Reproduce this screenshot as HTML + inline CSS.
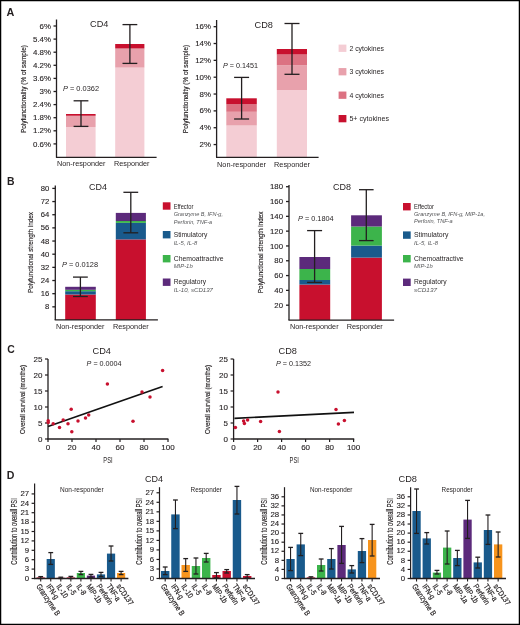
<!DOCTYPE html><html><head><meta charset="utf-8"><style>html,body{margin:0;padding:0;background:#fff;}svg{display:block;will-change:transform;fill:#231f20;}text{font-family:"Liberation Sans",sans-serif;}</style></head><body>
<svg width="520" height="625" viewBox="0 0 520 625">
<rect x="0" y="0" width="520" height="625" fill="#fff"/>
<text x="7" y="185.2" font-size="10.4" font-weight="bold">B</text>
<text x="6.6" y="15.8" font-size="10.8" font-weight="bold">A</text>
<text x="7.2" y="352.5" font-size="10.4" font-weight="bold">C</text>
<text x="6.8" y="478.6" font-size="10.6" font-weight="bold">D</text>
<rect x="66" y="127" width="29.6" height="30" fill="#f4cdd4"/>
<rect x="66" y="116" width="29.6" height="11" fill="#e8a1ac"/>
<rect x="66" y="115.6" width="29.6" height="0.4" fill="#dc7282"/>
<rect x="66" y="114" width="29.6" height="1.7" fill="#c8102e"/>
<rect x="115.2" y="67.6" width="29.2" height="89.4" fill="#f4cdd4"/>
<rect x="115.2" y="49.5" width="29.2" height="18.1" fill="#e8a1ac"/>
<rect x="115.2" y="48.2" width="29.2" height="1.3" fill="#dc7282"/>
<rect x="115.2" y="44" width="29.2" height="4.2" fill="#c8102e"/>
<line x1="81" y1="100.8" x2="81" y2="126.4" stroke="#231f20" stroke-width="1.3"/>
<line x1="73.6" y1="100.8" x2="88.4" y2="100.8" stroke="#231f20" stroke-width="1.3"/>
<line x1="73.6" y1="126.4" x2="88.4" y2="126.4" stroke="#231f20" stroke-width="1.3"/>
<line x1="129.9" y1="24.6" x2="129.9" y2="63.4" stroke="#231f20" stroke-width="1.3"/>
<line x1="122.5" y1="24.6" x2="137.3" y2="24.6" stroke="#231f20" stroke-width="1.3"/>
<line x1="122.5" y1="63.4" x2="137.3" y2="63.4" stroke="#231f20" stroke-width="1.3"/>
<line x1="56.5" y1="19.5" x2="56.5" y2="157" stroke="#231f20" stroke-width="1.3"/>
<line x1="53.5" y1="143.9" x2="56.5" y2="143.9" stroke="#231f20" stroke-width="1.3"/>
<text x="51" y="146.5" font-size="7.9" text-anchor="end" stroke="#231f20" stroke-width="0.12">0.6%</text>
<line x1="53.5" y1="130.8" x2="56.5" y2="130.8" stroke="#231f20" stroke-width="1.3"/>
<text x="51" y="133.4" font-size="7.9" text-anchor="end" stroke="#231f20" stroke-width="0.12">1.2%</text>
<line x1="53.5" y1="117.7" x2="56.5" y2="117.7" stroke="#231f20" stroke-width="1.3"/>
<text x="51" y="120.3" font-size="7.9" text-anchor="end" stroke="#231f20" stroke-width="0.12">1.8%</text>
<line x1="53.5" y1="104.6" x2="56.5" y2="104.6" stroke="#231f20" stroke-width="1.3"/>
<text x="51" y="107.2" font-size="7.9" text-anchor="end" stroke="#231f20" stroke-width="0.12">2.4%</text>
<line x1="53.5" y1="91.5" x2="56.5" y2="91.5" stroke="#231f20" stroke-width="1.3"/>
<text x="51" y="94.1" font-size="7.9" text-anchor="end" stroke="#231f20" stroke-width="0.12">3%</text>
<line x1="53.5" y1="78.4" x2="56.5" y2="78.4" stroke="#231f20" stroke-width="1.3"/>
<text x="51" y="81" font-size="7.9" text-anchor="end" stroke="#231f20" stroke-width="0.12">3.6%</text>
<line x1="53.5" y1="65.3" x2="56.5" y2="65.3" stroke="#231f20" stroke-width="1.3"/>
<text x="51" y="67.9" font-size="7.9" text-anchor="end" stroke="#231f20" stroke-width="0.12">4.2%</text>
<line x1="53.5" y1="52.2" x2="56.5" y2="52.2" stroke="#231f20" stroke-width="1.3"/>
<text x="51" y="54.8" font-size="7.9" text-anchor="end" stroke="#231f20" stroke-width="0.12">4.8%</text>
<line x1="53.5" y1="39.1" x2="56.5" y2="39.1" stroke="#231f20" stroke-width="1.3"/>
<text x="51" y="41.7" font-size="7.9" text-anchor="end" stroke="#231f20" stroke-width="0.12">5.4%</text>
<line x1="53.5" y1="26" x2="56.5" y2="26" stroke="#231f20" stroke-width="1.3"/>
<text x="51" y="28.6" font-size="7.9" text-anchor="end" stroke="#231f20" stroke-width="0.12">6%</text>
<line x1="55.9" y1="157.3" x2="156.6" y2="157.3" stroke="#231f20" stroke-width="1.3"/>
<text x="90" y="27" font-size="9.6" textLength="18.4" lengthAdjust="spacingAndGlyphs">CD4</text>
<text x="63" y="91.4" font-size="7.4" textLength="36" lengthAdjust="spacingAndGlyphs"><tspan font-style="italic">P</tspan> = 0.0362</text>
<text x="57" y="166.4" font-size="7.3" textLength="48.5" lengthAdjust="spacingAndGlyphs">Non-responder</text>
<text x="114" y="166.4" font-size="7.3" textLength="35.5" lengthAdjust="spacingAndGlyphs">Responder</text>
<text transform="translate(25.6 89) rotate(-90)" text-anchor="middle" font-size="7.2" textLength="88" lengthAdjust="spacingAndGlyphs" stroke="#231f20" stroke-width="0.15">Polyfunctionality (% of sample)</text>
<rect x="226.3" y="125.5" width="30.5" height="31.5" fill="#f4cdd4"/>
<rect x="226.3" y="111.8" width="30.5" height="13.7" fill="#e8a1ac"/>
<rect x="226.3" y="104.3" width="30.5" height="7.5" fill="#dc7282"/>
<rect x="226.3" y="98.3" width="30.5" height="6" fill="#c8102e"/>
<rect x="276.8" y="90" width="30.2" height="67" fill="#f4cdd4"/>
<rect x="276.8" y="65.2" width="30.2" height="24.8" fill="#e8a1ac"/>
<rect x="276.8" y="54.5" width="30.2" height="10.7" fill="#dc7282"/>
<rect x="276.8" y="49" width="30.2" height="5.5" fill="#c8102e"/>
<line x1="241.6" y1="77.4" x2="241.6" y2="119" stroke="#231f20" stroke-width="1.3"/>
<line x1="234.1" y1="77.4" x2="249.1" y2="77.4" stroke="#231f20" stroke-width="1.3"/>
<line x1="234.1" y1="119" x2="249.1" y2="119" stroke="#231f20" stroke-width="1.3"/>
<line x1="292" y1="23.5" x2="292" y2="74.3" stroke="#231f20" stroke-width="1.3"/>
<line x1="284.5" y1="23.5" x2="299.5" y2="23.5" stroke="#231f20" stroke-width="1.3"/>
<line x1="284.5" y1="74.3" x2="299.5" y2="74.3" stroke="#231f20" stroke-width="1.3"/>
<line x1="216.6" y1="20" x2="216.6" y2="157" stroke="#231f20" stroke-width="1.3"/>
<line x1="213.6" y1="144.56" x2="216.6" y2="144.56" stroke="#231f20" stroke-width="1.3"/>
<text x="211" y="147.16" font-size="7.9" text-anchor="end" stroke="#231f20" stroke-width="0.12">2%</text>
<line x1="213.6" y1="127.72" x2="216.6" y2="127.72" stroke="#231f20" stroke-width="1.3"/>
<text x="211" y="130.32" font-size="7.9" text-anchor="end" stroke="#231f20" stroke-width="0.12">4%</text>
<line x1="213.6" y1="110.88" x2="216.6" y2="110.88" stroke="#231f20" stroke-width="1.3"/>
<text x="211" y="113.48" font-size="7.9" text-anchor="end" stroke="#231f20" stroke-width="0.12">6%</text>
<line x1="213.6" y1="94.04" x2="216.6" y2="94.04" stroke="#231f20" stroke-width="1.3"/>
<text x="211" y="96.64" font-size="7.9" text-anchor="end" stroke="#231f20" stroke-width="0.12">8%</text>
<line x1="213.6" y1="77.2" x2="216.6" y2="77.2" stroke="#231f20" stroke-width="1.3"/>
<text x="211" y="79.8" font-size="7.9" text-anchor="end" stroke="#231f20" stroke-width="0.12">10%</text>
<line x1="213.6" y1="60.36" x2="216.6" y2="60.36" stroke="#231f20" stroke-width="1.3"/>
<text x="211" y="62.96" font-size="7.9" text-anchor="end" stroke="#231f20" stroke-width="0.12">12%</text>
<line x1="213.6" y1="43.52" x2="216.6" y2="43.52" stroke="#231f20" stroke-width="1.3"/>
<text x="211" y="46.12" font-size="7.9" text-anchor="end" stroke="#231f20" stroke-width="0.12">14%</text>
<line x1="213.6" y1="26.68" x2="216.6" y2="26.68" stroke="#231f20" stroke-width="1.3"/>
<text x="211" y="29.28" font-size="7.9" text-anchor="end" stroke="#231f20" stroke-width="0.12">16%</text>
<line x1="216" y1="157.3" x2="318.6" y2="157.3" stroke="#231f20" stroke-width="1.3"/>
<text x="254.6" y="27.9" font-size="9.6" textLength="18.4" lengthAdjust="spacingAndGlyphs">CD8</text>
<text x="223" y="67.6" font-size="7.4" textLength="35" lengthAdjust="spacingAndGlyphs"><tspan font-style="italic">P</tspan> = 0.1451</text>
<text x="217" y="167" font-size="7.3" textLength="49" lengthAdjust="spacingAndGlyphs">Non-responder</text>
<text x="274" y="167" font-size="7.3" textLength="36" lengthAdjust="spacingAndGlyphs">Responder</text>
<text transform="translate(188.4 89) rotate(-90)" text-anchor="middle" font-size="7.2" textLength="88.3" lengthAdjust="spacingAndGlyphs" stroke="#231f20" stroke-width="0.15">Polyfunctionality (% of sample)</text>
<rect x="338.6" y="44.6" width="7.8" height="7.3" fill="#f4cdd4"/>
<text x="349.4" y="50.6" font-size="7" textLength="34.6" lengthAdjust="spacingAndGlyphs">2 cytokines</text>
<rect x="338.6" y="68.07" width="7.8" height="7.3" fill="#e8a1ac"/>
<text x="349.4" y="74.07" font-size="7" textLength="34.6" lengthAdjust="spacingAndGlyphs">3 cytokines</text>
<rect x="338.6" y="91.54" width="7.8" height="7.3" fill="#dc7282"/>
<text x="349.4" y="97.54" font-size="7" textLength="34.6" lengthAdjust="spacingAndGlyphs">4 cytokines</text>
<rect x="338.6" y="115.01" width="7.8" height="7.3" fill="#c8102e"/>
<text x="349.4" y="121.01" font-size="7" textLength="39.6" lengthAdjust="spacingAndGlyphs">5+ cytokines</text>
<rect x="65.2" y="294.5" width="30.6" height="25.5" fill="#c8102e"/>
<rect x="65.2" y="291.2" width="30.6" height="3.3" fill="#195a8c"/>
<rect x="65.2" y="289.8" width="30.6" height="1.4" fill="#3cb44b"/>
<rect x="65.2" y="286.8" width="30.6" height="3" fill="#5c2a7b"/>
<rect x="115.8" y="239.4" width="30.1" height="80.6" fill="#c8102e"/>
<rect x="115.8" y="222.9" width="30.1" height="16.5" fill="#195a8c"/>
<rect x="115.8" y="221" width="30.1" height="1.9" fill="#3cb44b"/>
<rect x="115.8" y="212.9" width="30.1" height="8.1" fill="#5c2a7b"/>
<line x1="80.4" y1="277.1" x2="80.4" y2="296.5" stroke="#231f20" stroke-width="1.3"/>
<line x1="73" y1="277.1" x2="87.8" y2="277.1" stroke="#231f20" stroke-width="1.3"/>
<line x1="73" y1="296.5" x2="87.8" y2="296.5" stroke="#231f20" stroke-width="1.3"/>
<line x1="130.8" y1="192.3" x2="130.8" y2="232.8" stroke="#231f20" stroke-width="1.3"/>
<line x1="123.4" y1="192.3" x2="138.2" y2="192.3" stroke="#231f20" stroke-width="1.3"/>
<line x1="123.4" y1="232.8" x2="138.2" y2="232.8" stroke="#231f20" stroke-width="1.3"/>
<line x1="55.3" y1="185.6" x2="55.3" y2="320" stroke="#231f20" stroke-width="1.3"/>
<line x1="52.3" y1="306.84" x2="55.3" y2="306.84" stroke="#231f20" stroke-width="1.3"/>
<text x="49.2" y="309.44" font-size="7.7" text-anchor="end" stroke="#231f20" stroke-width="0.12">8</text>
<line x1="52.3" y1="293.68" x2="55.3" y2="293.68" stroke="#231f20" stroke-width="1.3"/>
<text x="49.2" y="296.28" font-size="7.7" text-anchor="end" stroke="#231f20" stroke-width="0.12">16</text>
<line x1="52.3" y1="280.52" x2="55.3" y2="280.52" stroke="#231f20" stroke-width="1.3"/>
<text x="49.2" y="283.12" font-size="7.7" text-anchor="end" stroke="#231f20" stroke-width="0.12">24</text>
<line x1="52.3" y1="267.36" x2="55.3" y2="267.36" stroke="#231f20" stroke-width="1.3"/>
<text x="49.2" y="269.96" font-size="7.7" text-anchor="end" stroke="#231f20" stroke-width="0.12">32</text>
<line x1="52.3" y1="254.2" x2="55.3" y2="254.2" stroke="#231f20" stroke-width="1.3"/>
<text x="49.2" y="256.8" font-size="7.7" text-anchor="end" stroke="#231f20" stroke-width="0.12">40</text>
<line x1="52.3" y1="241.04" x2="55.3" y2="241.04" stroke="#231f20" stroke-width="1.3"/>
<text x="49.2" y="243.64" font-size="7.7" text-anchor="end" stroke="#231f20" stroke-width="0.12">48</text>
<line x1="52.3" y1="227.88" x2="55.3" y2="227.88" stroke="#231f20" stroke-width="1.3"/>
<text x="49.2" y="230.48" font-size="7.7" text-anchor="end" stroke="#231f20" stroke-width="0.12">56</text>
<line x1="52.3" y1="214.72" x2="55.3" y2="214.72" stroke="#231f20" stroke-width="1.3"/>
<text x="49.2" y="217.32" font-size="7.7" text-anchor="end" stroke="#231f20" stroke-width="0.12">64</text>
<line x1="52.3" y1="201.56" x2="55.3" y2="201.56" stroke="#231f20" stroke-width="1.3"/>
<text x="49.2" y="204.16" font-size="7.7" text-anchor="end" stroke="#231f20" stroke-width="0.12">72</text>
<line x1="52.3" y1="188.4" x2="55.3" y2="188.4" stroke="#231f20" stroke-width="1.3"/>
<text x="49.2" y="191" font-size="7.7" text-anchor="end" stroke="#231f20" stroke-width="0.12">80</text>
<line x1="54.7" y1="319.9" x2="157.9" y2="319.9" stroke="#231f20" stroke-width="1.3"/>
<text x="89" y="190" font-size="9.5" textLength="18" lengthAdjust="spacingAndGlyphs">CD4</text>
<text x="62" y="267.4" font-size="7.4" textLength="36" lengthAdjust="spacingAndGlyphs"><tspan font-style="italic">P</tspan> = 0.0128</text>
<text x="56" y="328.6" font-size="7.3" textLength="48.5" lengthAdjust="spacingAndGlyphs">Non-responder</text>
<text x="113" y="328.6" font-size="7.3" textLength="35.7" lengthAdjust="spacingAndGlyphs">Responder</text>
<text transform="translate(32.5 252.5) rotate(-90)" text-anchor="middle" font-size="7.4" textLength="81" lengthAdjust="spacingAndGlyphs" stroke="#231f20" stroke-width="0.15">Polyfunctional strength index</text>
<rect x="162.8" y="202.3" width="7.7" height="7.4" fill="#c8102e"/>
<text x="173.7" y="208.7" font-size="6.5" textLength="19.8" lengthAdjust="spacingAndGlyphs">Effector</text>
<text x="173.7" y="216.3" font-size="5.9" textLength="49.3" lengthAdjust="spacingAndGlyphs" font-style="italic" fill="#555658">Granzyme B, IFN-g,</text>
<text x="173.7" y="223.5" font-size="5.9" textLength="38.5" lengthAdjust="spacingAndGlyphs" font-style="italic" fill="#555658">Perforin, TNF-a</text>
<rect x="162.8" y="231" width="7.7" height="7.4" fill="#195a8c"/>
<text x="173.7" y="237.2" font-size="6.8" textLength="33.6" lengthAdjust="spacingAndGlyphs">Stimulatory</text>
<text x="173.7" y="244.8" font-size="5.9" textLength="23.5" lengthAdjust="spacingAndGlyphs" font-style="italic" fill="#555658">IL-5, IL-8</text>
<rect x="162.8" y="255" width="7.7" height="7.4" fill="#3cb44b"/>
<text x="173.7" y="260.6" font-size="6.8" textLength="49.8" lengthAdjust="spacingAndGlyphs">Chemoattractive</text>
<text x="173.7" y="267.7" font-size="5.9" textLength="19" lengthAdjust="spacingAndGlyphs" font-style="italic" fill="#555658">MIP-1b</text>
<rect x="162.8" y="278.5" width="7.7" height="7.4" fill="#5c2a7b"/>
<text x="173.7" y="284.1" font-size="6.8" textLength="32.3" lengthAdjust="spacingAndGlyphs">Regulatory</text>
<text x="173.7" y="291.7" font-size="5.9" textLength="39.3" lengthAdjust="spacingAndGlyphs" font-style="italic" fill="#555658">IL-10, sCD137</text>
<rect x="299.4" y="284.6" width="30.8" height="35.4" fill="#c8102e"/>
<rect x="299.4" y="280" width="30.8" height="4.6" fill="#195a8c"/>
<rect x="299.4" y="269" width="30.8" height="11" fill="#3cb44b"/>
<rect x="299.4" y="257" width="30.8" height="12" fill="#5c2a7b"/>
<rect x="351.1" y="257.6" width="30.8" height="62.4" fill="#c8102e"/>
<rect x="351.1" y="245.6" width="30.8" height="12" fill="#195a8c"/>
<rect x="351.1" y="226.5" width="30.8" height="19.1" fill="#3cb44b"/>
<rect x="351.1" y="215.3" width="30.8" height="11.2" fill="#5c2a7b"/>
<line x1="314.6" y1="230.6" x2="314.6" y2="282.4" stroke="#231f20" stroke-width="1.3"/>
<line x1="307.1" y1="230.6" x2="322.1" y2="230.6" stroke="#231f20" stroke-width="1.3"/>
<line x1="307.1" y1="282.4" x2="322.1" y2="282.4" stroke="#231f20" stroke-width="1.3"/>
<line x1="366.3" y1="189.7" x2="366.3" y2="240.6" stroke="#231f20" stroke-width="1.3"/>
<line x1="359" y1="189.7" x2="373.6" y2="189.7" stroke="#231f20" stroke-width="1.3"/>
<line x1="359" y1="240.6" x2="373.6" y2="240.6" stroke="#231f20" stroke-width="1.3"/>
<line x1="289" y1="185" x2="289" y2="320" stroke="#231f20" stroke-width="1.3"/>
<line x1="286" y1="305.19" x2="289" y2="305.19" stroke="#231f20" stroke-width="1.3"/>
<text x="283" y="307.79" font-size="7.8" text-anchor="end" stroke="#231f20" stroke-width="0.12">20</text>
<line x1="286" y1="290.38" x2="289" y2="290.38" stroke="#231f20" stroke-width="1.3"/>
<text x="283" y="292.98" font-size="7.8" text-anchor="end" stroke="#231f20" stroke-width="0.12">40</text>
<line x1="286" y1="275.57" x2="289" y2="275.57" stroke="#231f20" stroke-width="1.3"/>
<text x="283" y="278.17" font-size="7.8" text-anchor="end" stroke="#231f20" stroke-width="0.12">60</text>
<line x1="286" y1="260.76" x2="289" y2="260.76" stroke="#231f20" stroke-width="1.3"/>
<text x="283" y="263.36" font-size="7.8" text-anchor="end" stroke="#231f20" stroke-width="0.12">80</text>
<line x1="286" y1="245.95" x2="289" y2="245.95" stroke="#231f20" stroke-width="1.3"/>
<text x="283" y="248.55" font-size="7.8" text-anchor="end" stroke="#231f20" stroke-width="0.12">100</text>
<line x1="286" y1="231.14" x2="289" y2="231.14" stroke="#231f20" stroke-width="1.3"/>
<text x="283" y="233.74" font-size="7.8" text-anchor="end" stroke="#231f20" stroke-width="0.12">120</text>
<line x1="286" y1="216.33" x2="289" y2="216.33" stroke="#231f20" stroke-width="1.3"/>
<text x="283" y="218.93" font-size="7.8" text-anchor="end" stroke="#231f20" stroke-width="0.12">140</text>
<line x1="286" y1="201.52" x2="289" y2="201.52" stroke="#231f20" stroke-width="1.3"/>
<text x="283" y="204.12" font-size="7.8" text-anchor="end" stroke="#231f20" stroke-width="0.12">160</text>
<line x1="286" y1="186.71" x2="289" y2="186.71" stroke="#231f20" stroke-width="1.3"/>
<text x="283" y="189.31" font-size="7.8" text-anchor="end" stroke="#231f20" stroke-width="0.12">180</text>
<line x1="288.4" y1="320.2" x2="394.1" y2="320.2" stroke="#231f20" stroke-width="1.3"/>
<text x="333" y="189.7" font-size="9.5" textLength="18" lengthAdjust="spacingAndGlyphs">CD8</text>
<text x="298" y="221" font-size="7.4" textLength="35.6" lengthAdjust="spacingAndGlyphs"><tspan font-style="italic">P</tspan> = 0.1804</text>
<text x="290" y="328.8" font-size="7.3" textLength="48.6" lengthAdjust="spacingAndGlyphs">Non-responder</text>
<text x="346.7" y="328.8" font-size="7.3" textLength="36" lengthAdjust="spacingAndGlyphs">Responder</text>
<text transform="translate(263 252.3) rotate(-90)" text-anchor="middle" font-size="7.4" textLength="81.7" lengthAdjust="spacingAndGlyphs" stroke="#231f20" stroke-width="0.15">Polyfunctional strength index</text>
<rect x="403" y="203" width="7.7" height="7.4" fill="#c8102e"/>
<text x="414" y="208.8" font-size="6.5" textLength="20" lengthAdjust="spacingAndGlyphs">Effector</text>
<text x="414" y="216.1" font-size="5.9" textLength="71" lengthAdjust="spacingAndGlyphs" font-style="italic" fill="#555658">Granzyme B, IFN-g, MIP-1a,</text>
<text x="414" y="223.1" font-size="5.9" textLength="38.6" lengthAdjust="spacingAndGlyphs" font-style="italic" fill="#555658">Perforin, TNF-a</text>
<rect x="403" y="231.4" width="7.7" height="7.4" fill="#195a8c"/>
<text x="414" y="237.4" font-size="6.8" textLength="34.4" lengthAdjust="spacingAndGlyphs">Stimulatory</text>
<text x="414" y="244.5" font-size="5.9" textLength="24" lengthAdjust="spacingAndGlyphs" font-style="italic" fill="#555658">IL-5, IL-8</text>
<rect x="403" y="255" width="7.7" height="7.4" fill="#3cb44b"/>
<text x="414" y="260.8" font-size="6.8" textLength="49.6" lengthAdjust="spacingAndGlyphs">Chemoattractive</text>
<text x="414" y="268.1" font-size="5.9" textLength="18.6" lengthAdjust="spacingAndGlyphs" font-style="italic" fill="#555658">MIP-1b</text>
<rect x="403" y="278.6" width="7.7" height="7.4" fill="#5c2a7b"/>
<text x="414" y="284.4" font-size="6.8" textLength="32.6" lengthAdjust="spacingAndGlyphs">Regulatory</text>
<text x="414" y="291.5" font-size="5.9" textLength="23" lengthAdjust="spacingAndGlyphs" font-style="italic" fill="#555658">sCD137</text>
<line x1="48" y1="359" x2="48" y2="439" stroke="#231f20" stroke-width="1.3"/>
<line x1="45" y1="439" x2="48" y2="439" stroke="#231f20" stroke-width="1.2"/>
<text x="42.4" y="441.9" font-size="8" text-anchor="end" stroke="#231f20" stroke-width="0.12">0</text>
<line x1="45" y1="423" x2="48" y2="423" stroke="#231f20" stroke-width="1.2"/>
<text x="42.4" y="425.9" font-size="8" text-anchor="end" stroke="#231f20" stroke-width="0.12">5</text>
<line x1="45" y1="407" x2="48" y2="407" stroke="#231f20" stroke-width="1.2"/>
<text x="42.4" y="409.9" font-size="8" text-anchor="end" stroke="#231f20" stroke-width="0.12">10</text>
<line x1="45" y1="391" x2="48" y2="391" stroke="#231f20" stroke-width="1.2"/>
<text x="42.4" y="393.9" font-size="8" text-anchor="end" stroke="#231f20" stroke-width="0.12">15</text>
<line x1="45" y1="375" x2="48" y2="375" stroke="#231f20" stroke-width="1.2"/>
<text x="42.4" y="377.9" font-size="8" text-anchor="end" stroke="#231f20" stroke-width="0.12">20</text>
<line x1="45" y1="359" x2="48" y2="359" stroke="#231f20" stroke-width="1.2"/>
<text x="42.4" y="361.9" font-size="8" text-anchor="end" stroke="#231f20" stroke-width="0.12">25</text>
<line x1="47.4" y1="439" x2="168.4" y2="439" stroke="#231f20" stroke-width="1.3"/>
<line x1="48" y1="439" x2="48" y2="442" stroke="#231f20" stroke-width="1.2"/>
<text x="48" y="450.3" font-size="8" text-anchor="middle" stroke="#231f20" stroke-width="0.12">0</text>
<line x1="72" y1="439" x2="72" y2="442" stroke="#231f20" stroke-width="1.2"/>
<text x="72" y="450.3" font-size="8" text-anchor="middle" stroke="#231f20" stroke-width="0.12">20</text>
<line x1="96" y1="439" x2="96" y2="442" stroke="#231f20" stroke-width="1.2"/>
<text x="96" y="450.3" font-size="8" text-anchor="middle" stroke="#231f20" stroke-width="0.12">40</text>
<line x1="120" y1="439" x2="120" y2="442" stroke="#231f20" stroke-width="1.2"/>
<text x="120" y="450.3" font-size="8" text-anchor="middle" stroke="#231f20" stroke-width="0.12">60</text>
<line x1="144" y1="439" x2="144" y2="442" stroke="#231f20" stroke-width="1.2"/>
<text x="144" y="450.3" font-size="8" text-anchor="middle" stroke="#231f20" stroke-width="0.12">80</text>
<line x1="168" y1="439" x2="168" y2="442" stroke="#231f20" stroke-width="1.2"/>
<text x="168" y="450.3" font-size="8" text-anchor="middle" stroke="#231f20" stroke-width="0.12">100</text>
<line x1="48" y1="426.6" x2="162.6" y2="386.4" stroke="#111" stroke-width="1.6"/>
<circle cx="48.2" cy="420.8" r="1.75" fill="#c8102e"/>
<circle cx="48.2" cy="422.6" r="1.75" fill="#c8102e"/>
<circle cx="53.2" cy="423.8" r="1.75" fill="#c8102e"/>
<circle cx="59.5" cy="427.5" r="1.75" fill="#c8102e"/>
<circle cx="63.2" cy="420" r="1.75" fill="#c8102e"/>
<circle cx="68" cy="423.8" r="1.75" fill="#c8102e"/>
<circle cx="71.2" cy="409.2" r="1.75" fill="#c8102e"/>
<circle cx="71.8" cy="431.8" r="1.75" fill="#c8102e"/>
<circle cx="78" cy="421" r="1.75" fill="#c8102e"/>
<circle cx="85.5" cy="418" r="1.75" fill="#c8102e"/>
<circle cx="88.7" cy="415" r="1.75" fill="#c8102e"/>
<circle cx="107.4" cy="384" r="1.75" fill="#c8102e"/>
<circle cx="133" cy="421.2" r="1.75" fill="#c8102e"/>
<circle cx="142" cy="392" r="1.75" fill="#c8102e"/>
<circle cx="150" cy="397" r="1.75" fill="#c8102e"/>
<circle cx="162.6" cy="370.4" r="1.75" fill="#c8102e"/>
<text x="92.6" y="354.2" font-size="9.6" textLength="18.4" lengthAdjust="spacingAndGlyphs">CD4</text>
<text x="86.6" y="366.3" font-size="7.2" textLength="35" lengthAdjust="spacingAndGlyphs"><tspan font-style="italic">P</tspan> = 0.0004</text>
<text transform="translate(24.5 399.5) rotate(-90)" text-anchor="middle" font-size="6.8" textLength="69" lengthAdjust="spacingAndGlyphs" stroke="#231f20" stroke-width="0.15">Overall survival (months)</text>
<text x="108" y="463" font-size="8.3" text-anchor="middle" textLength="9.3" lengthAdjust="spacingAndGlyphs">PSI</text>
<line x1="233.6" y1="359" x2="233.6" y2="439" stroke="#231f20" stroke-width="1.3"/>
<line x1="230.6" y1="439" x2="233.6" y2="439" stroke="#231f20" stroke-width="1.2"/>
<text x="228" y="441.9" font-size="8" text-anchor="end" stroke="#231f20" stroke-width="0.12">0</text>
<line x1="230.6" y1="423" x2="233.6" y2="423" stroke="#231f20" stroke-width="1.2"/>
<text x="228" y="425.9" font-size="8" text-anchor="end" stroke="#231f20" stroke-width="0.12">5</text>
<line x1="230.6" y1="407" x2="233.6" y2="407" stroke="#231f20" stroke-width="1.2"/>
<text x="228" y="409.9" font-size="8" text-anchor="end" stroke="#231f20" stroke-width="0.12">10</text>
<line x1="230.6" y1="391" x2="233.6" y2="391" stroke="#231f20" stroke-width="1.2"/>
<text x="228" y="393.9" font-size="8" text-anchor="end" stroke="#231f20" stroke-width="0.12">15</text>
<line x1="230.6" y1="375" x2="233.6" y2="375" stroke="#231f20" stroke-width="1.2"/>
<text x="228" y="377.9" font-size="8" text-anchor="end" stroke="#231f20" stroke-width="0.12">20</text>
<line x1="230.6" y1="359" x2="233.6" y2="359" stroke="#231f20" stroke-width="1.2"/>
<text x="228" y="361.9" font-size="8" text-anchor="end" stroke="#231f20" stroke-width="0.12">25</text>
<line x1="233" y1="439" x2="354.2" y2="439" stroke="#231f20" stroke-width="1.3"/>
<line x1="233.6" y1="439" x2="233.6" y2="442" stroke="#231f20" stroke-width="1.2"/>
<text x="233.6" y="450.3" font-size="8" text-anchor="middle" stroke="#231f20" stroke-width="0.12">0</text>
<line x1="257.6" y1="439" x2="257.6" y2="442" stroke="#231f20" stroke-width="1.2"/>
<text x="257.6" y="450.3" font-size="8" text-anchor="middle" stroke="#231f20" stroke-width="0.12">20</text>
<line x1="281.6" y1="439" x2="281.6" y2="442" stroke="#231f20" stroke-width="1.2"/>
<text x="281.6" y="450.3" font-size="8" text-anchor="middle" stroke="#231f20" stroke-width="0.12">40</text>
<line x1="305.6" y1="439" x2="305.6" y2="442" stroke="#231f20" stroke-width="1.2"/>
<text x="305.6" y="450.3" font-size="8" text-anchor="middle" stroke="#231f20" stroke-width="0.12">60</text>
<line x1="329.6" y1="439" x2="329.6" y2="442" stroke="#231f20" stroke-width="1.2"/>
<text x="329.6" y="450.3" font-size="8" text-anchor="middle" stroke="#231f20" stroke-width="0.12">80</text>
<line x1="353.6" y1="439" x2="353.6" y2="442" stroke="#231f20" stroke-width="1.2"/>
<text x="353.6" y="450.3" font-size="8" text-anchor="middle" stroke="#231f20" stroke-width="0.12">100</text>
<line x1="234.4" y1="418.4" x2="354" y2="412.4" stroke="#111" stroke-width="1.6"/>
<circle cx="235.4" cy="427.4" r="1.75" fill="#c8102e"/>
<circle cx="243.6" cy="421" r="1.75" fill="#c8102e"/>
<circle cx="244.4" cy="423.4" r="1.75" fill="#c8102e"/>
<circle cx="247.6" cy="420" r="1.75" fill="#c8102e"/>
<circle cx="260.6" cy="421.4" r="1.75" fill="#c8102e"/>
<circle cx="278" cy="392" r="1.75" fill="#c8102e"/>
<circle cx="279.4" cy="431.6" r="1.75" fill="#c8102e"/>
<circle cx="336" cy="409.4" r="1.75" fill="#c8102e"/>
<circle cx="338.4" cy="424" r="1.75" fill="#c8102e"/>
<circle cx="344.4" cy="420.4" r="1.75" fill="#c8102e"/>
<text x="278.6" y="354.2" font-size="9.6" textLength="18.4" lengthAdjust="spacingAndGlyphs">CD8</text>
<text x="276" y="366.3" font-size="7.2" textLength="35" lengthAdjust="spacingAndGlyphs"><tspan font-style="italic">P</tspan> = 0.1352</text>
<text transform="translate(209.6 399.5) rotate(-90)" text-anchor="middle" font-size="6.8" textLength="69" lengthAdjust="spacingAndGlyphs" stroke="#231f20" stroke-width="0.15">Overall survival (months)</text>
<text x="294.2" y="463" font-size="8.3" text-anchor="middle" textLength="9.3" lengthAdjust="spacingAndGlyphs">PSI</text>
<rect x="36.6" y="577.4" width="8.2" height="1.1" fill="#c8102e"/>
<rect x="46.65" y="559" width="8.2" height="19.5" fill="#195a8c"/>
<rect x="56.7" y="577.8" width="8.2" height="0.7" fill="#c8102e"/>
<rect x="66.75" y="577.4" width="8.2" height="1.1" fill="#c8102e"/>
<rect x="76.8" y="573" width="8.2" height="5.5" fill="#3cb44b"/>
<rect x="86.85" y="575.6" width="8.2" height="2.9" fill="#5c2a7b"/>
<rect x="96.9" y="574.4" width="8.2" height="4.1" fill="#195a8c"/>
<rect x="106.95" y="553.6" width="8.2" height="24.9" fill="#195a8c"/>
<rect x="117" y="573" width="8.2" height="5.5" fill="#f7941d"/>
<line x1="40.7" y1="576.6" x2="40.7" y2="578.5" stroke="#231f20" stroke-width="1.1"/>
<line x1="38.3" y1="576.6" x2="43.1" y2="576.6" stroke="#231f20" stroke-width="1.3"/>
<line x1="38.3" y1="578.5" x2="43.1" y2="578.5" stroke="#231f20" stroke-width="1.3"/>
<line x1="50.75" y1="552.6" x2="50.75" y2="564.4" stroke="#231f20" stroke-width="1.1"/>
<line x1="48.35" y1="552.6" x2="53.15" y2="552.6" stroke="#231f20" stroke-width="1.3"/>
<line x1="48.35" y1="564.4" x2="53.15" y2="564.4" stroke="#231f20" stroke-width="1.3"/>
<line x1="60.8" y1="577.2" x2="60.8" y2="578.5" stroke="#231f20" stroke-width="1.1"/>
<line x1="58.4" y1="577.2" x2="63.2" y2="577.2" stroke="#231f20" stroke-width="1.3"/>
<line x1="58.4" y1="578.5" x2="63.2" y2="578.5" stroke="#231f20" stroke-width="1.3"/>
<line x1="70.85" y1="576.4" x2="70.85" y2="578.5" stroke="#231f20" stroke-width="1.1"/>
<line x1="68.45" y1="576.4" x2="73.25" y2="576.4" stroke="#231f20" stroke-width="1.3"/>
<line x1="68.45" y1="578.5" x2="73.25" y2="578.5" stroke="#231f20" stroke-width="1.3"/>
<line x1="80.9" y1="571.4" x2="80.9" y2="574.6" stroke="#231f20" stroke-width="1.1"/>
<line x1="78.5" y1="571.4" x2="83.3" y2="571.4" stroke="#231f20" stroke-width="1.3"/>
<line x1="78.5" y1="574.6" x2="83.3" y2="574.6" stroke="#231f20" stroke-width="1.3"/>
<line x1="90.95" y1="574.4" x2="90.95" y2="577.2" stroke="#231f20" stroke-width="1.1"/>
<line x1="88.55" y1="574.4" x2="93.35" y2="574.4" stroke="#231f20" stroke-width="1.3"/>
<line x1="88.55" y1="577.2" x2="93.35" y2="577.2" stroke="#231f20" stroke-width="1.3"/>
<line x1="101" y1="572.4" x2="101" y2="576.6" stroke="#231f20" stroke-width="1.1"/>
<line x1="98.6" y1="572.4" x2="103.4" y2="572.4" stroke="#231f20" stroke-width="1.3"/>
<line x1="98.6" y1="576.6" x2="103.4" y2="576.6" stroke="#231f20" stroke-width="1.3"/>
<line x1="111.05" y1="546" x2="111.05" y2="561" stroke="#231f20" stroke-width="1.1"/>
<line x1="108.65" y1="546" x2="113.45" y2="546" stroke="#231f20" stroke-width="1.3"/>
<line x1="108.65" y1="561" x2="113.45" y2="561" stroke="#231f20" stroke-width="1.3"/>
<line x1="121.1" y1="571.4" x2="121.1" y2="574.6" stroke="#231f20" stroke-width="1.1"/>
<line x1="118.7" y1="571.4" x2="123.5" y2="571.4" stroke="#231f20" stroke-width="1.3"/>
<line x1="118.7" y1="574.6" x2="123.5" y2="574.6" stroke="#231f20" stroke-width="1.3"/>
<line x1="34.6" y1="483.5" x2="34.6" y2="578.5" stroke="#231f20" stroke-width="1.2"/>
<line x1="31.6" y1="578.5" x2="34.6" y2="578.5" stroke="#231f20" stroke-width="1.2"/>
<text x="29.2" y="580.7" font-size="7.8" text-anchor="end" stroke="#231f20" stroke-width="0.12">0</text>
<line x1="31.6" y1="569.1" x2="34.6" y2="569.1" stroke="#231f20" stroke-width="1.2"/>
<text x="29.2" y="571.3" font-size="7.8" text-anchor="end" stroke="#231f20" stroke-width="0.12">3</text>
<line x1="31.6" y1="559.7" x2="34.6" y2="559.7" stroke="#231f20" stroke-width="1.2"/>
<text x="29.2" y="561.9" font-size="7.8" text-anchor="end" stroke="#231f20" stroke-width="0.12">6</text>
<line x1="31.6" y1="550.3" x2="34.6" y2="550.3" stroke="#231f20" stroke-width="1.2"/>
<text x="29.2" y="552.5" font-size="7.8" text-anchor="end" stroke="#231f20" stroke-width="0.12">9</text>
<line x1="31.6" y1="540.9" x2="34.6" y2="540.9" stroke="#231f20" stroke-width="1.2"/>
<text x="29.2" y="543.1" font-size="7.8" text-anchor="end" stroke="#231f20" stroke-width="0.12">12</text>
<line x1="31.6" y1="531.5" x2="34.6" y2="531.5" stroke="#231f20" stroke-width="1.2"/>
<text x="29.2" y="533.71" font-size="7.8" text-anchor="end" stroke="#231f20" stroke-width="0.12">15</text>
<line x1="31.6" y1="522.11" x2="34.6" y2="522.11" stroke="#231f20" stroke-width="1.2"/>
<text x="29.2" y="524.31" font-size="7.8" text-anchor="end" stroke="#231f20" stroke-width="0.12">18</text>
<line x1="31.6" y1="512.71" x2="34.6" y2="512.71" stroke="#231f20" stroke-width="1.2"/>
<text x="29.2" y="514.91" font-size="7.8" text-anchor="end" stroke="#231f20" stroke-width="0.12">21</text>
<line x1="31.6" y1="503.31" x2="34.6" y2="503.31" stroke="#231f20" stroke-width="1.2"/>
<text x="29.2" y="505.51" font-size="7.8" text-anchor="end" stroke="#231f20" stroke-width="0.12">24</text>
<line x1="31.6" y1="493.91" x2="34.6" y2="493.91" stroke="#231f20" stroke-width="1.2"/>
<text x="29.2" y="496.11" font-size="7.8" text-anchor="end" stroke="#231f20" stroke-width="0.12">27</text>
<line x1="34" y1="578.5" x2="128.4" y2="578.5" stroke="#231f20" stroke-width="1.3"/>
<line x1="40.7" y1="578.5" x2="40.7" y2="581.5" stroke="#231f20" stroke-width="1.1"/>
<text transform="translate(35.9 586.3) rotate(56) scale(0.83 1)" font-size="7.9" stroke="#231f20" stroke-width="0.2">Granzyme B</text>
<line x1="50.75" y1="578.5" x2="50.75" y2="581.5" stroke="#231f20" stroke-width="1.1"/>
<text transform="translate(45.95 586.3) rotate(56) scale(0.83 1)" font-size="7.9" stroke="#231f20" stroke-width="0.2">IFN-g</text>
<line x1="60.8" y1="578.5" x2="60.8" y2="581.5" stroke="#231f20" stroke-width="1.1"/>
<text transform="translate(56 586.3) rotate(56) scale(0.83 1)" font-size="7.9" stroke="#231f20" stroke-width="0.2">IL-10</text>
<line x1="70.85" y1="578.5" x2="70.85" y2="581.5" stroke="#231f20" stroke-width="1.1"/>
<text transform="translate(66.05 586.3) rotate(56) scale(0.83 1)" font-size="7.9" stroke="#231f20" stroke-width="0.2">IL-5</text>
<line x1="80.9" y1="578.5" x2="80.9" y2="581.5" stroke="#231f20" stroke-width="1.1"/>
<text transform="translate(76.1 586.3) rotate(56) scale(0.83 1)" font-size="7.9" stroke="#231f20" stroke-width="0.2">IL-8</text>
<line x1="90.95" y1="578.5" x2="90.95" y2="581.5" stroke="#231f20" stroke-width="1.1"/>
<text transform="translate(86.15 586.3) rotate(56) scale(0.83 1)" font-size="7.9" stroke="#231f20" stroke-width="0.2">MIP-1b</text>
<line x1="101" y1="578.5" x2="101" y2="581.5" stroke="#231f20" stroke-width="1.1"/>
<text transform="translate(96.2 586.3) rotate(56) scale(0.83 1)" font-size="7.9" stroke="#231f20" stroke-width="0.2">Perforin</text>
<line x1="111.05" y1="578.5" x2="111.05" y2="581.5" stroke="#231f20" stroke-width="1.1"/>
<text transform="translate(106.25 586.3) rotate(56) scale(0.83 1)" font-size="7.9" stroke="#231f20" stroke-width="0.2">TNF-a</text>
<line x1="121.1" y1="578.5" x2="121.1" y2="581.5" stroke="#231f20" stroke-width="1.1"/>
<text transform="translate(116.3 586.3) rotate(56) scale(0.83 1)" font-size="7.9" stroke="#231f20" stroke-width="0.2">sCD137</text>
<text x="60" y="491.5" font-size="6.4" textLength="43.6" lengthAdjust="spacingAndGlyphs">Non-responder</text>
<text transform="translate(17.2 531.5) rotate(-90)" text-anchor="middle" font-size="8.2" textLength="66.5" lengthAdjust="spacingAndGlyphs" stroke="#231f20" stroke-width="0.15">Contribution to overall PSI</text>
<rect x="161" y="571" width="8.4" height="7.5" fill="#195a8c"/>
<rect x="171.25" y="514.4" width="8.4" height="64.1" fill="#195a8c"/>
<rect x="181.5" y="565" width="8.4" height="13.5" fill="#f7941d"/>
<rect x="191.75" y="566" width="8.4" height="12.5" fill="#3cb44b"/>
<rect x="202" y="558" width="8.4" height="20.5" fill="#3cb44b"/>
<rect x="212.25" y="575" width="8.4" height="3.5" fill="#c8102e"/>
<rect x="222.5" y="571" width="8.4" height="7.5" fill="#c8102e"/>
<rect x="232.75" y="500" width="8.4" height="78.5" fill="#195a8c"/>
<rect x="243" y="576" width="8.4" height="2.5" fill="#c8102e"/>
<line x1="165.2" y1="567" x2="165.2" y2="574.6" stroke="#231f20" stroke-width="1.1"/>
<line x1="162.8" y1="567" x2="167.6" y2="567" stroke="#231f20" stroke-width="1.3"/>
<line x1="162.8" y1="574.6" x2="167.6" y2="574.6" stroke="#231f20" stroke-width="1.3"/>
<line x1="175.45" y1="500" x2="175.45" y2="528.6" stroke="#231f20" stroke-width="1.1"/>
<line x1="173.05" y1="500" x2="177.85" y2="500" stroke="#231f20" stroke-width="1.3"/>
<line x1="173.05" y1="528.6" x2="177.85" y2="528.6" stroke="#231f20" stroke-width="1.3"/>
<line x1="185.7" y1="558.6" x2="185.7" y2="571.4" stroke="#231f20" stroke-width="1.1"/>
<line x1="183.3" y1="558.6" x2="188.1" y2="558.6" stroke="#231f20" stroke-width="1.3"/>
<line x1="183.3" y1="571.4" x2="188.1" y2="571.4" stroke="#231f20" stroke-width="1.3"/>
<line x1="195.95" y1="558" x2="195.95" y2="574" stroke="#231f20" stroke-width="1.1"/>
<line x1="193.55" y1="558" x2="198.35" y2="558" stroke="#231f20" stroke-width="1.3"/>
<line x1="193.55" y1="574" x2="198.35" y2="574" stroke="#231f20" stroke-width="1.3"/>
<line x1="206.2" y1="553.4" x2="206.2" y2="562" stroke="#231f20" stroke-width="1.1"/>
<line x1="203.8" y1="553.4" x2="208.6" y2="553.4" stroke="#231f20" stroke-width="1.3"/>
<line x1="203.8" y1="562" x2="208.6" y2="562" stroke="#231f20" stroke-width="1.3"/>
<line x1="216.45" y1="572.6" x2="216.45" y2="578" stroke="#231f20" stroke-width="1.1"/>
<line x1="214.05" y1="572.6" x2="218.85" y2="572.6" stroke="#231f20" stroke-width="1.3"/>
<line x1="214.05" y1="578" x2="218.85" y2="578" stroke="#231f20" stroke-width="1.3"/>
<line x1="226.7" y1="569.6" x2="226.7" y2="573" stroke="#231f20" stroke-width="1.1"/>
<line x1="224.3" y1="569.6" x2="229.1" y2="569.6" stroke="#231f20" stroke-width="1.3"/>
<line x1="224.3" y1="573" x2="229.1" y2="573" stroke="#231f20" stroke-width="1.3"/>
<line x1="236.95" y1="486.4" x2="236.95" y2="514" stroke="#231f20" stroke-width="1.1"/>
<line x1="234.55" y1="486.4" x2="239.35" y2="486.4" stroke="#231f20" stroke-width="1.3"/>
<line x1="234.55" y1="514" x2="239.35" y2="514" stroke="#231f20" stroke-width="1.3"/>
<line x1="247.2" y1="574.6" x2="247.2" y2="578" stroke="#231f20" stroke-width="1.1"/>
<line x1="244.8" y1="574.6" x2="249.6" y2="574.6" stroke="#231f20" stroke-width="1.3"/>
<line x1="244.8" y1="578" x2="249.6" y2="578" stroke="#231f20" stroke-width="1.3"/>
<line x1="159.5" y1="487.2" x2="159.5" y2="578.5" stroke="#231f20" stroke-width="1.2"/>
<line x1="156.5" y1="578.5" x2="159.5" y2="578.5" stroke="#231f20" stroke-width="1.2"/>
<text x="154.1" y="580.7" font-size="7.8" text-anchor="end" stroke="#231f20" stroke-width="0.12">0</text>
<line x1="156.5" y1="568.98" x2="159.5" y2="568.98" stroke="#231f20" stroke-width="1.2"/>
<text x="154.1" y="571.18" font-size="7.8" text-anchor="end" stroke="#231f20" stroke-width="0.12">3</text>
<line x1="156.5" y1="559.45" x2="159.5" y2="559.45" stroke="#231f20" stroke-width="1.2"/>
<text x="154.1" y="561.65" font-size="7.8" text-anchor="end" stroke="#231f20" stroke-width="0.12">6</text>
<line x1="156.5" y1="549.92" x2="159.5" y2="549.92" stroke="#231f20" stroke-width="1.2"/>
<text x="154.1" y="552.12" font-size="7.8" text-anchor="end" stroke="#231f20" stroke-width="0.12">9</text>
<line x1="156.5" y1="540.4" x2="159.5" y2="540.4" stroke="#231f20" stroke-width="1.2"/>
<text x="154.1" y="542.6" font-size="7.8" text-anchor="end" stroke="#231f20" stroke-width="0.12">12</text>
<line x1="156.5" y1="530.88" x2="159.5" y2="530.88" stroke="#231f20" stroke-width="1.2"/>
<text x="154.1" y="533.08" font-size="7.8" text-anchor="end" stroke="#231f20" stroke-width="0.12">15</text>
<line x1="156.5" y1="521.35" x2="159.5" y2="521.35" stroke="#231f20" stroke-width="1.2"/>
<text x="154.1" y="523.55" font-size="7.8" text-anchor="end" stroke="#231f20" stroke-width="0.12">18</text>
<line x1="156.5" y1="511.82" x2="159.5" y2="511.82" stroke="#231f20" stroke-width="1.2"/>
<text x="154.1" y="514.02" font-size="7.8" text-anchor="end" stroke="#231f20" stroke-width="0.12">21</text>
<line x1="156.5" y1="502.3" x2="159.5" y2="502.3" stroke="#231f20" stroke-width="1.2"/>
<text x="154.1" y="504.5" font-size="7.8" text-anchor="end" stroke="#231f20" stroke-width="0.12">24</text>
<line x1="156.5" y1="492.77" x2="159.5" y2="492.77" stroke="#231f20" stroke-width="1.2"/>
<text x="154.1" y="494.97" font-size="7.8" text-anchor="end" stroke="#231f20" stroke-width="0.12">27</text>
<line x1="158.9" y1="578.5" x2="255" y2="578.5" stroke="#231f20" stroke-width="1.3"/>
<line x1="165.2" y1="578.5" x2="165.2" y2="581.5" stroke="#231f20" stroke-width="1.1"/>
<text transform="translate(160.4 586.3) rotate(56) scale(0.83 1)" font-size="7.9" stroke="#231f20" stroke-width="0.2">Granzyme B</text>
<line x1="175.45" y1="578.5" x2="175.45" y2="581.5" stroke="#231f20" stroke-width="1.1"/>
<text transform="translate(170.65 586.3) rotate(56) scale(0.83 1)" font-size="7.9" stroke="#231f20" stroke-width="0.2">IFN-g</text>
<line x1="185.7" y1="578.5" x2="185.7" y2="581.5" stroke="#231f20" stroke-width="1.1"/>
<text transform="translate(180.9 586.3) rotate(56) scale(0.83 1)" font-size="7.9" stroke="#231f20" stroke-width="0.2">IL-10</text>
<line x1="195.95" y1="578.5" x2="195.95" y2="581.5" stroke="#231f20" stroke-width="1.1"/>
<text transform="translate(191.15 586.3) rotate(56) scale(0.83 1)" font-size="7.9" stroke="#231f20" stroke-width="0.2">IL-5</text>
<line x1="206.2" y1="578.5" x2="206.2" y2="581.5" stroke="#231f20" stroke-width="1.1"/>
<text transform="translate(201.4 586.3) rotate(56) scale(0.83 1)" font-size="7.9" stroke="#231f20" stroke-width="0.2">IL-8</text>
<line x1="216.45" y1="578.5" x2="216.45" y2="581.5" stroke="#231f20" stroke-width="1.1"/>
<text transform="translate(211.65 586.3) rotate(56) scale(0.83 1)" font-size="7.9" stroke="#231f20" stroke-width="0.2">MIP-1b</text>
<line x1="226.7" y1="578.5" x2="226.7" y2="581.5" stroke="#231f20" stroke-width="1.1"/>
<text transform="translate(221.9 586.3) rotate(56) scale(0.83 1)" font-size="7.9" stroke="#231f20" stroke-width="0.2">Perforin</text>
<line x1="236.95" y1="578.5" x2="236.95" y2="581.5" stroke="#231f20" stroke-width="1.1"/>
<text transform="translate(232.15 586.3) rotate(56) scale(0.83 1)" font-size="7.9" stroke="#231f20" stroke-width="0.2">TNF-a</text>
<line x1="247.2" y1="578.5" x2="247.2" y2="581.5" stroke="#231f20" stroke-width="1.1"/>
<text transform="translate(242.4 586.3) rotate(56) scale(0.83 1)" font-size="7.9" stroke="#231f20" stroke-width="0.2">sCD137</text>
<text x="190.6" y="491.5" font-size="6.4" textLength="31.4" lengthAdjust="spacingAndGlyphs">Responder</text>
<text transform="translate(142.2 531.5) rotate(-90)" text-anchor="middle" font-size="8.2" textLength="66.5" lengthAdjust="spacingAndGlyphs" stroke="#231f20" stroke-width="0.15">Contribution to overall PSI</text>
<text x="145" y="482" font-size="9.6" textLength="18" lengthAdjust="spacingAndGlyphs">CD4</text>
<rect x="286.4" y="559" width="8.3" height="19.5" fill="#195a8c"/>
<rect x="296.6" y="544.4" width="8.3" height="34.1" fill="#195a8c"/>
<rect x="306.8" y="577.4" width="8.3" height="1.1" fill="#c8102e"/>
<rect x="317" y="565" width="8.3" height="13.5" fill="#3cb44b"/>
<rect x="327.2" y="559" width="8.3" height="19.5" fill="#195a8c"/>
<rect x="337.4" y="545" width="8.3" height="33.5" fill="#5c2a7b"/>
<rect x="347.6" y="569.4" width="8.3" height="9.1" fill="#195a8c"/>
<rect x="357.8" y="551" width="8.3" height="27.5" fill="#195a8c"/>
<rect x="368" y="540" width="8.3" height="38.5" fill="#f7941d"/>
<line x1="290.55" y1="547.4" x2="290.55" y2="570.6" stroke="#231f20" stroke-width="1.1"/>
<line x1="288.15" y1="547.4" x2="292.95" y2="547.4" stroke="#231f20" stroke-width="1.3"/>
<line x1="288.15" y1="570.6" x2="292.95" y2="570.6" stroke="#231f20" stroke-width="1.3"/>
<line x1="300.75" y1="533.4" x2="300.75" y2="555.6" stroke="#231f20" stroke-width="1.1"/>
<line x1="298.35" y1="533.4" x2="303.15" y2="533.4" stroke="#231f20" stroke-width="1.3"/>
<line x1="298.35" y1="555.6" x2="303.15" y2="555.6" stroke="#231f20" stroke-width="1.3"/>
<line x1="310.95" y1="576.8" x2="310.95" y2="578.5" stroke="#231f20" stroke-width="1.1"/>
<line x1="308.55" y1="576.8" x2="313.35" y2="576.8" stroke="#231f20" stroke-width="1.3"/>
<line x1="308.55" y1="578.5" x2="313.35" y2="578.5" stroke="#231f20" stroke-width="1.3"/>
<line x1="321.15" y1="559" x2="321.15" y2="571" stroke="#231f20" stroke-width="1.1"/>
<line x1="318.75" y1="559" x2="323.55" y2="559" stroke="#231f20" stroke-width="1.3"/>
<line x1="318.75" y1="571" x2="323.55" y2="571" stroke="#231f20" stroke-width="1.3"/>
<line x1="331.35" y1="548.6" x2="331.35" y2="569" stroke="#231f20" stroke-width="1.1"/>
<line x1="328.95" y1="548.6" x2="333.75" y2="548.6" stroke="#231f20" stroke-width="1.3"/>
<line x1="328.95" y1="569" x2="333.75" y2="569" stroke="#231f20" stroke-width="1.3"/>
<line x1="341.55" y1="526.4" x2="341.55" y2="563.4" stroke="#231f20" stroke-width="1.1"/>
<line x1="339.15" y1="526.4" x2="343.95" y2="526.4" stroke="#231f20" stroke-width="1.3"/>
<line x1="339.15" y1="563.4" x2="343.95" y2="563.4" stroke="#231f20" stroke-width="1.3"/>
<line x1="351.75" y1="565.6" x2="351.75" y2="573" stroke="#231f20" stroke-width="1.1"/>
<line x1="349.35" y1="565.6" x2="354.15" y2="565.6" stroke="#231f20" stroke-width="1.3"/>
<line x1="349.35" y1="573" x2="354.15" y2="573" stroke="#231f20" stroke-width="1.3"/>
<line x1="361.95" y1="538.6" x2="361.95" y2="562.6" stroke="#231f20" stroke-width="1.1"/>
<line x1="359.55" y1="538.6" x2="364.35" y2="538.6" stroke="#231f20" stroke-width="1.3"/>
<line x1="359.55" y1="562.6" x2="364.35" y2="562.6" stroke="#231f20" stroke-width="1.3"/>
<line x1="372.15" y1="524.4" x2="372.15" y2="556" stroke="#231f20" stroke-width="1.1"/>
<line x1="369.75" y1="524.4" x2="374.55" y2="524.4" stroke="#231f20" stroke-width="1.3"/>
<line x1="369.75" y1="556" x2="374.55" y2="556" stroke="#231f20" stroke-width="1.3"/>
<line x1="284.5" y1="487.2" x2="284.5" y2="578.5" stroke="#231f20" stroke-width="1.2"/>
<line x1="281.5" y1="578.5" x2="284.5" y2="578.5" stroke="#231f20" stroke-width="1.2"/>
<text x="279.1" y="580.7" font-size="7.8" text-anchor="end" stroke="#231f20" stroke-width="0.12">0</text>
<line x1="281.5" y1="569.42" x2="284.5" y2="569.42" stroke="#231f20" stroke-width="1.2"/>
<text x="279.1" y="571.62" font-size="7.8" text-anchor="end" stroke="#231f20" stroke-width="0.12">4</text>
<line x1="281.5" y1="560.34" x2="284.5" y2="560.34" stroke="#231f20" stroke-width="1.2"/>
<text x="279.1" y="562.54" font-size="7.8" text-anchor="end" stroke="#231f20" stroke-width="0.12">8</text>
<line x1="281.5" y1="551.26" x2="284.5" y2="551.26" stroke="#231f20" stroke-width="1.2"/>
<text x="279.1" y="553.46" font-size="7.8" text-anchor="end" stroke="#231f20" stroke-width="0.12">12</text>
<line x1="281.5" y1="542.18" x2="284.5" y2="542.18" stroke="#231f20" stroke-width="1.2"/>
<text x="279.1" y="544.38" font-size="7.8" text-anchor="end" stroke="#231f20" stroke-width="0.12">16</text>
<line x1="281.5" y1="533.1" x2="284.5" y2="533.1" stroke="#231f20" stroke-width="1.2"/>
<text x="279.1" y="535.3" font-size="7.8" text-anchor="end" stroke="#231f20" stroke-width="0.12">20</text>
<line x1="281.5" y1="524.02" x2="284.5" y2="524.02" stroke="#231f20" stroke-width="1.2"/>
<text x="279.1" y="526.22" font-size="7.8" text-anchor="end" stroke="#231f20" stroke-width="0.12">24</text>
<line x1="281.5" y1="514.94" x2="284.5" y2="514.94" stroke="#231f20" stroke-width="1.2"/>
<text x="279.1" y="517.14" font-size="7.8" text-anchor="end" stroke="#231f20" stroke-width="0.12">28</text>
<line x1="281.5" y1="505.86" x2="284.5" y2="505.86" stroke="#231f20" stroke-width="1.2"/>
<text x="279.1" y="508.06" font-size="7.8" text-anchor="end" stroke="#231f20" stroke-width="0.12">32</text>
<line x1="281.5" y1="496.78" x2="284.5" y2="496.78" stroke="#231f20" stroke-width="1.2"/>
<text x="279.1" y="498.98" font-size="7.8" text-anchor="end" stroke="#231f20" stroke-width="0.12">36</text>
<line x1="283.9" y1="578.5" x2="380" y2="578.5" stroke="#231f20" stroke-width="1.3"/>
<line x1="290.55" y1="578.5" x2="290.55" y2="581.5" stroke="#231f20" stroke-width="1.1"/>
<text transform="translate(285.75 586.3) rotate(56) scale(0.83 1)" font-size="7.9" stroke="#231f20" stroke-width="0.2">Granzyme B</text>
<line x1="300.75" y1="578.5" x2="300.75" y2="581.5" stroke="#231f20" stroke-width="1.1"/>
<text transform="translate(295.95 586.3) rotate(56) scale(0.83 1)" font-size="7.9" stroke="#231f20" stroke-width="0.2">IFN-g</text>
<line x1="310.95" y1="578.5" x2="310.95" y2="581.5" stroke="#231f20" stroke-width="1.1"/>
<text transform="translate(306.15 586.3) rotate(56) scale(0.83 1)" font-size="7.9" stroke="#231f20" stroke-width="0.2">IL-5</text>
<line x1="321.15" y1="578.5" x2="321.15" y2="581.5" stroke="#231f20" stroke-width="1.1"/>
<text transform="translate(316.35 586.3) rotate(56) scale(0.83 1)" font-size="7.9" stroke="#231f20" stroke-width="0.2">IL-8</text>
<line x1="331.35" y1="578.5" x2="331.35" y2="581.5" stroke="#231f20" stroke-width="1.1"/>
<text transform="translate(326.55 586.3) rotate(56) scale(0.83 1)" font-size="7.9" stroke="#231f20" stroke-width="0.2">MIP-1a</text>
<line x1="341.55" y1="578.5" x2="341.55" y2="581.5" stroke="#231f20" stroke-width="1.1"/>
<text transform="translate(336.75 586.3) rotate(56) scale(0.83 1)" font-size="7.9" stroke="#231f20" stroke-width="0.2">MIP-1b</text>
<line x1="351.75" y1="578.5" x2="351.75" y2="581.5" stroke="#231f20" stroke-width="1.1"/>
<text transform="translate(346.95 586.3) rotate(56) scale(0.83 1)" font-size="7.9" stroke="#231f20" stroke-width="0.2">Perforin</text>
<line x1="361.95" y1="578.5" x2="361.95" y2="581.5" stroke="#231f20" stroke-width="1.1"/>
<text transform="translate(357.15 586.3) rotate(56) scale(0.83 1)" font-size="7.9" stroke="#231f20" stroke-width="0.2">TNF-a</text>
<line x1="372.15" y1="578.5" x2="372.15" y2="581.5" stroke="#231f20" stroke-width="1.1"/>
<text transform="translate(367.35 586.3) rotate(56) scale(0.83 1)" font-size="7.9" stroke="#231f20" stroke-width="0.2">sCD137</text>
<text x="310" y="491.5" font-size="6.4" textLength="42.4" lengthAdjust="spacingAndGlyphs">Non-responder</text>
<text transform="translate(266.7 531.5) rotate(-90)" text-anchor="middle" font-size="8.2" textLength="66.5" lengthAdjust="spacingAndGlyphs" stroke="#231f20" stroke-width="0.15">Contribution to overall PSI</text>
<rect x="412.4" y="511" width="8.3" height="67.5" fill="#195a8c"/>
<rect x="422.6" y="538.4" width="8.3" height="40.1" fill="#195a8c"/>
<rect x="432.8" y="572.6" width="8.3" height="5.9" fill="#3cb44b"/>
<rect x="443" y="547.6" width="8.3" height="30.9" fill="#3cb44b"/>
<rect x="453.2" y="558" width="8.3" height="20.5" fill="#195a8c"/>
<rect x="463.4" y="519.6" width="8.3" height="58.9" fill="#5c2a7b"/>
<rect x="473.6" y="562.4" width="8.3" height="16.1" fill="#195a8c"/>
<rect x="483.8" y="530" width="8.3" height="48.5" fill="#195a8c"/>
<rect x="494" y="544.4" width="8.3" height="34.1" fill="#f7941d"/>
<line x1="416.55" y1="489" x2="416.55" y2="533.4" stroke="#231f20" stroke-width="1.1"/>
<line x1="414.15" y1="489" x2="418.95" y2="489" stroke="#231f20" stroke-width="1.3"/>
<line x1="414.15" y1="533.4" x2="418.95" y2="533.4" stroke="#231f20" stroke-width="1.3"/>
<line x1="426.75" y1="532.6" x2="426.75" y2="544" stroke="#231f20" stroke-width="1.1"/>
<line x1="424.35" y1="532.6" x2="429.15" y2="532.6" stroke="#231f20" stroke-width="1.3"/>
<line x1="424.35" y1="544" x2="429.15" y2="544" stroke="#231f20" stroke-width="1.3"/>
<line x1="436.95" y1="570.4" x2="436.95" y2="574" stroke="#231f20" stroke-width="1.1"/>
<line x1="434.55" y1="570.4" x2="439.35" y2="570.4" stroke="#231f20" stroke-width="1.3"/>
<line x1="434.55" y1="574" x2="439.35" y2="574" stroke="#231f20" stroke-width="1.3"/>
<line x1="447.15" y1="531" x2="447.15" y2="564" stroke="#231f20" stroke-width="1.1"/>
<line x1="444.75" y1="531" x2="449.55" y2="531" stroke="#231f20" stroke-width="1.3"/>
<line x1="444.75" y1="564" x2="449.55" y2="564" stroke="#231f20" stroke-width="1.3"/>
<line x1="457.35" y1="550.4" x2="457.35" y2="565.6" stroke="#231f20" stroke-width="1.1"/>
<line x1="454.95" y1="550.4" x2="459.75" y2="550.4" stroke="#231f20" stroke-width="1.3"/>
<line x1="454.95" y1="565.6" x2="459.75" y2="565.6" stroke="#231f20" stroke-width="1.3"/>
<line x1="467.55" y1="500.4" x2="467.55" y2="538.4" stroke="#231f20" stroke-width="1.1"/>
<line x1="465.15" y1="500.4" x2="469.95" y2="500.4" stroke="#231f20" stroke-width="1.3"/>
<line x1="465.15" y1="538.4" x2="469.95" y2="538.4" stroke="#231f20" stroke-width="1.3"/>
<line x1="477.75" y1="557.2" x2="477.75" y2="568" stroke="#231f20" stroke-width="1.1"/>
<line x1="475.35" y1="557.2" x2="480.15" y2="557.2" stroke="#231f20" stroke-width="1.3"/>
<line x1="475.35" y1="568" x2="480.15" y2="568" stroke="#231f20" stroke-width="1.3"/>
<line x1="487.95" y1="515" x2="487.95" y2="544.4" stroke="#231f20" stroke-width="1.1"/>
<line x1="485.55" y1="515" x2="490.35" y2="515" stroke="#231f20" stroke-width="1.3"/>
<line x1="485.55" y1="544.4" x2="490.35" y2="544.4" stroke="#231f20" stroke-width="1.3"/>
<line x1="498.15" y1="532" x2="498.15" y2="557" stroke="#231f20" stroke-width="1.1"/>
<line x1="495.75" y1="532" x2="500.55" y2="532" stroke="#231f20" stroke-width="1.3"/>
<line x1="495.75" y1="557" x2="500.55" y2="557" stroke="#231f20" stroke-width="1.3"/>
<line x1="410.6" y1="487.2" x2="410.6" y2="578.5" stroke="#231f20" stroke-width="1.2"/>
<line x1="407.6" y1="578.5" x2="410.6" y2="578.5" stroke="#231f20" stroke-width="1.2"/>
<text x="405.2" y="580.7" font-size="7.8" text-anchor="end" stroke="#231f20" stroke-width="0.12">0</text>
<line x1="407.6" y1="569.42" x2="410.6" y2="569.42" stroke="#231f20" stroke-width="1.2"/>
<text x="405.2" y="571.62" font-size="7.8" text-anchor="end" stroke="#231f20" stroke-width="0.12">4</text>
<line x1="407.6" y1="560.34" x2="410.6" y2="560.34" stroke="#231f20" stroke-width="1.2"/>
<text x="405.2" y="562.54" font-size="7.8" text-anchor="end" stroke="#231f20" stroke-width="0.12">8</text>
<line x1="407.6" y1="551.26" x2="410.6" y2="551.26" stroke="#231f20" stroke-width="1.2"/>
<text x="405.2" y="553.46" font-size="7.8" text-anchor="end" stroke="#231f20" stroke-width="0.12">12</text>
<line x1="407.6" y1="542.18" x2="410.6" y2="542.18" stroke="#231f20" stroke-width="1.2"/>
<text x="405.2" y="544.38" font-size="7.8" text-anchor="end" stroke="#231f20" stroke-width="0.12">16</text>
<line x1="407.6" y1="533.1" x2="410.6" y2="533.1" stroke="#231f20" stroke-width="1.2"/>
<text x="405.2" y="535.3" font-size="7.8" text-anchor="end" stroke="#231f20" stroke-width="0.12">20</text>
<line x1="407.6" y1="524.02" x2="410.6" y2="524.02" stroke="#231f20" stroke-width="1.2"/>
<text x="405.2" y="526.22" font-size="7.8" text-anchor="end" stroke="#231f20" stroke-width="0.12">24</text>
<line x1="407.6" y1="514.94" x2="410.6" y2="514.94" stroke="#231f20" stroke-width="1.2"/>
<text x="405.2" y="517.14" font-size="7.8" text-anchor="end" stroke="#231f20" stroke-width="0.12">28</text>
<line x1="407.6" y1="505.86" x2="410.6" y2="505.86" stroke="#231f20" stroke-width="1.2"/>
<text x="405.2" y="508.06" font-size="7.8" text-anchor="end" stroke="#231f20" stroke-width="0.12">32</text>
<line x1="407.6" y1="496.78" x2="410.6" y2="496.78" stroke="#231f20" stroke-width="1.2"/>
<text x="405.2" y="498.98" font-size="7.8" text-anchor="end" stroke="#231f20" stroke-width="0.12">36</text>
<line x1="410" y1="578.5" x2="506" y2="578.5" stroke="#231f20" stroke-width="1.3"/>
<line x1="416.55" y1="578.5" x2="416.55" y2="581.5" stroke="#231f20" stroke-width="1.1"/>
<text transform="translate(411.75 586.3) rotate(56) scale(0.83 1)" font-size="7.9" stroke="#231f20" stroke-width="0.2">Granzyme B</text>
<line x1="426.75" y1="578.5" x2="426.75" y2="581.5" stroke="#231f20" stroke-width="1.1"/>
<text transform="translate(421.95 586.3) rotate(56) scale(0.83 1)" font-size="7.9" stroke="#231f20" stroke-width="0.2">IFN-g</text>
<line x1="436.95" y1="578.5" x2="436.95" y2="581.5" stroke="#231f20" stroke-width="1.1"/>
<text transform="translate(432.15 586.3) rotate(56) scale(0.83 1)" font-size="7.9" stroke="#231f20" stroke-width="0.2">IL-5</text>
<line x1="447.15" y1="578.5" x2="447.15" y2="581.5" stroke="#231f20" stroke-width="1.1"/>
<text transform="translate(442.35 586.3) rotate(56) scale(0.83 1)" font-size="7.9" stroke="#231f20" stroke-width="0.2">IL-8</text>
<line x1="457.35" y1="578.5" x2="457.35" y2="581.5" stroke="#231f20" stroke-width="1.1"/>
<text transform="translate(452.55 586.3) rotate(56) scale(0.83 1)" font-size="7.9" stroke="#231f20" stroke-width="0.2">MIP-1a</text>
<line x1="467.55" y1="578.5" x2="467.55" y2="581.5" stroke="#231f20" stroke-width="1.1"/>
<text transform="translate(462.75 586.3) rotate(56) scale(0.83 1)" font-size="7.9" stroke="#231f20" stroke-width="0.2">MIP-1b</text>
<line x1="477.75" y1="578.5" x2="477.75" y2="581.5" stroke="#231f20" stroke-width="1.1"/>
<text transform="translate(472.95 586.3) rotate(56) scale(0.83 1)" font-size="7.9" stroke="#231f20" stroke-width="0.2">Perforin</text>
<line x1="487.95" y1="578.5" x2="487.95" y2="581.5" stroke="#231f20" stroke-width="1.1"/>
<text transform="translate(483.15 586.3) rotate(56) scale(0.83 1)" font-size="7.9" stroke="#231f20" stroke-width="0.2">TNF-a</text>
<line x1="498.15" y1="578.5" x2="498.15" y2="581.5" stroke="#231f20" stroke-width="1.1"/>
<text transform="translate(493.35 586.3) rotate(56) scale(0.83 1)" font-size="7.9" stroke="#231f20" stroke-width="0.2">sCD137</text>
<text x="441.6" y="491.5" font-size="6.4" textLength="31" lengthAdjust="spacingAndGlyphs">Responder</text>
<text transform="translate(392.7 531.5) rotate(-90)" text-anchor="middle" font-size="8.2" textLength="66.5" lengthAdjust="spacingAndGlyphs" stroke="#231f20" stroke-width="0.15">Contribution to overall PSI</text>
<text x="398.5" y="482" font-size="9.6" textLength="18.5" lengthAdjust="spacingAndGlyphs">CD8</text>
<rect x="0.6" y="0.6" width="518.8" height="623.8" fill="none" stroke="#000" stroke-width="1.3"/>
</svg></body></html>
